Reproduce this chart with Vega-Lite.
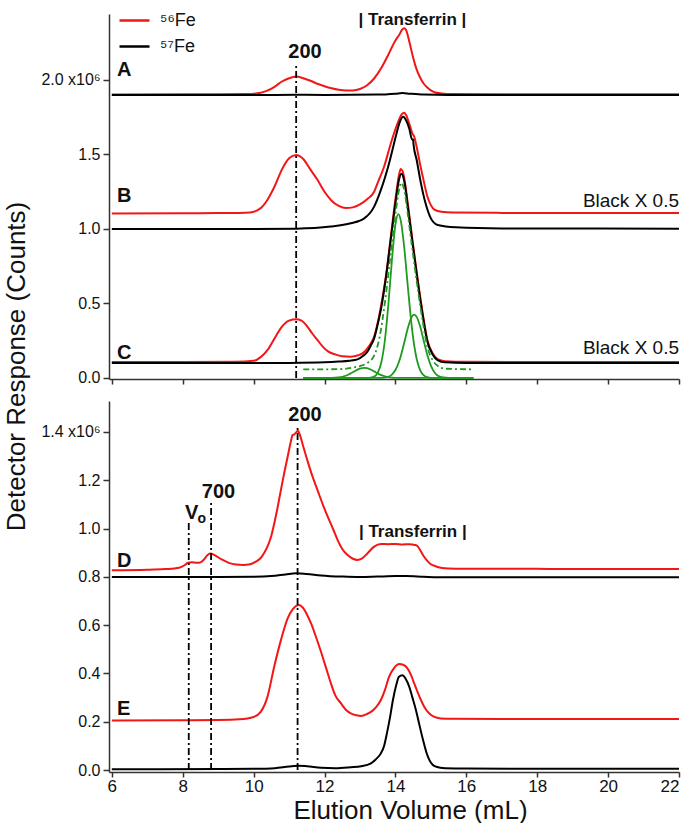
{
"$schema":"https://vega.github.io/schema/vega-lite/v6.json",
"background":"white",
"padding":{"left":3,"top":4,"right":0,"bottom":0},
"bounds":"flush",
"spacing":22,
"resolve":{"scale":{"x":"independent","y":"independent","color":"shared"}},
"config":{
 "view":{"stroke":null},
 "font":"Liberation Sans",
 "axis":{"grid":false,"domainColor":"#333","domainWidth":1.5,"tickColor":"#333","tickWidth":1.5,"labelColor":"#111","labelFont":"Liberation Sans","titleFont":"Liberation Sans","titleColor":"#111","titleFontWeight":"normal"},
 "legend":{"padding":0}
},
"datasets":{
"top":[
{"s":"A","iso":"56Fe","x":6,"y":1.903},{"s":"A","iso":"56Fe","x":8,"y":1.904},{"s":"A","iso":"56Fe","x":9,"y":1.905},{"s":"A","iso":"56Fe","x":9.8,"y":1.906},{"s":"A","iso":"56Fe","x":10.2,"y":1.914},{"s":"A","iso":"56Fe","x":10.4,"y":1.93},{"s":"A","iso":"56Fe","x":10.6,"y":1.956},{"s":"A","iso":"56Fe","x":10.8,"y":1.99},{"s":"A","iso":"56Fe","x":11,"y":2.012},{"s":"A","iso":"56Fe","x":11.2,"y":2.023},{"s":"A","iso":"56Fe","x":11.4,"y":2.012},{"s":"A","iso":"56Fe","x":11.6,"y":1.995},{"s":"A","iso":"56Fe","x":11.8,"y":1.975},{"s":"A","iso":"56Fe","x":12,"y":1.958},{"s":"A","iso":"56Fe","x":12.2,"y":1.944},{"s":"A","iso":"56Fe","x":12.4,"y":1.934},{"s":"A","iso":"56Fe","x":12.6,"y":1.929},{"s":"A","iso":"56Fe","x":12.8,"y":1.93},{"s":"A","iso":"56Fe","x":13,"y":1.94},{"s":"A","iso":"56Fe","x":13.2,"y":1.965},{"s":"A","iso":"56Fe","x":13.4,"y":2.01},{"s":"A","iso":"56Fe","x":13.6,"y":2.08},{"s":"A","iso":"56Fe","x":13.8,"y":2.17},{"s":"A","iso":"56Fe","x":14,"y":2.265},{"s":"A","iso":"56Fe","x":14.1,"y":2.3},{"s":"A","iso":"56Fe","x":14.2,"y":2.34},{"s":"A","iso":"56Fe","x":14.25,"y":2.347},{"s":"A","iso":"56Fe","x":14.3,"y":2.335},{"s":"A","iso":"56Fe","x":14.4,"y":2.25},{"s":"A","iso":"56Fe","x":14.5,"y":2.15},{"s":"A","iso":"56Fe","x":14.6,"y":2.07},{"s":"A","iso":"56Fe","x":14.7,"y":2.015},{"s":"A","iso":"56Fe","x":14.8,"y":1.975},{"s":"A","iso":"56Fe","x":14.9,"y":1.95},{"s":"A","iso":"56Fe","x":15,"y":1.93},{"s":"A","iso":"56Fe","x":15.1,"y":1.918},{"s":"A","iso":"56Fe","x":15.3,"y":1.91},{"s":"A","iso":"56Fe","x":15.6,"y":1.906},{"s":"A","iso":"56Fe","x":17,"y":1.905},{"s":"A","iso":"56Fe","x":19,"y":1.904},{"s":"A","iso":"56Fe","x":22,"y":1.904},
{"s":"A","iso":"57Fe","x":6,"y":1.899},{"s":"A","iso":"57Fe","x":10,"y":1.899},{"s":"A","iso":"57Fe","x":11.2,"y":1.901},{"s":"A","iso":"57Fe","x":12,"y":1.9},{"s":"A","iso":"57Fe","x":13.5,"y":1.902},{"s":"A","iso":"57Fe","x":14,"y":1.908},{"s":"A","iso":"57Fe","x":14.2,"y":1.912},{"s":"A","iso":"57Fe","x":14.4,"y":1.908},{"s":"A","iso":"57Fe","x":14.8,"y":1.902},{"s":"A","iso":"57Fe","x":15.5,"y":1.9},{"s":"A","iso":"57Fe","x":22,"y":1.9},
{"s":"B","iso":"56Fe","x":6,"y":1.104},{"s":"B","iso":"56Fe","x":8,"y":1.105},{"s":"B","iso":"56Fe","x":9,"y":1.107},{"s":"B","iso":"56Fe","x":9.6,"y":1.107},{"s":"B","iso":"56Fe","x":9.9,"y":1.11},{"s":"B","iso":"56Fe","x":10.1,"y":1.125},{"s":"B","iso":"56Fe","x":10.2,"y":1.14},{"s":"B","iso":"56Fe","x":10.4,"y":1.2},{"s":"B","iso":"56Fe","x":10.6,"y":1.29},{"s":"B","iso":"56Fe","x":10.8,"y":1.4},{"s":"B","iso":"56Fe","x":11,"y":1.475},{"s":"B","iso":"56Fe","x":11.2,"y":1.497},{"s":"B","iso":"56Fe","x":11.4,"y":1.47},{"s":"B","iso":"56Fe","x":11.6,"y":1.4},{"s":"B","iso":"56Fe","x":11.8,"y":1.33},{"s":"B","iso":"56Fe","x":12,"y":1.25},{"s":"B","iso":"56Fe","x":12.2,"y":1.19},{"s":"B","iso":"56Fe","x":12.4,"y":1.155},{"s":"B","iso":"56Fe","x":12.6,"y":1.14},{"s":"B","iso":"56Fe","x":12.8,"y":1.145},{"s":"B","iso":"56Fe","x":13,"y":1.165},{"s":"B","iso":"56Fe","x":13.2,"y":1.2},{"s":"B","iso":"56Fe","x":13.4,"y":1.25},{"s":"B","iso":"56Fe","x":13.5,"y":1.31},{"s":"B","iso":"56Fe","x":13.68,"y":1.418},{"s":"B","iso":"56Fe","x":13.87,"y":1.574},{"s":"B","iso":"56Fe","x":14.06,"y":1.709},{"s":"B","iso":"56Fe","x":14.18,"y":1.77},{"s":"B","iso":"56Fe","x":14.25,"y":1.78},{"s":"B","iso":"56Fe","x":14.3,"y":1.765},{"s":"B","iso":"56Fe","x":14.4,"y":1.7},{"s":"B","iso":"56Fe","x":14.48,"y":1.64},{"s":"B","iso":"56Fe","x":14.53,"y":1.62},{"s":"B","iso":"56Fe","x":14.6,"y":1.55},{"s":"B","iso":"56Fe","x":14.7,"y":1.43},{"s":"B","iso":"56Fe","x":14.8,"y":1.32},{"s":"B","iso":"56Fe","x":14.9,"y":1.22},{"s":"B","iso":"56Fe","x":15,"y":1.16},{"s":"B","iso":"56Fe","x":15.1,"y":1.13},{"s":"B","iso":"56Fe","x":15.3,"y":1.115},{"s":"B","iso":"56Fe","x":15.6,"y":1.11},{"s":"B","iso":"56Fe","x":17,"y":1.108},{"s":"B","iso":"56Fe","x":19,"y":1.107},{"s":"B","iso":"56Fe","x":22,"y":1.107},
{"s":"B","iso":"57Fe","x":6,"y":1.0},{"s":"B","iso":"57Fe","x":10,"y":1.0},{"s":"B","iso":"57Fe","x":11.2,"y":1.002},{"s":"B","iso":"57Fe","x":12.18,"y":1.016},{"s":"B","iso":"57Fe","x":12.74,"y":1.038},{"s":"B","iso":"57Fe","x":13.12,"y":1.071},{"s":"B","iso":"57Fe","x":13.4,"y":1.15},{"s":"B","iso":"57Fe","x":13.59,"y":1.262},{"s":"B","iso":"57Fe","x":13.82,"y":1.44},{"s":"B","iso":"57Fe","x":14.01,"y":1.62},{"s":"B","iso":"57Fe","x":14.11,"y":1.709},{"s":"B","iso":"57Fe","x":14.22,"y":1.753},{"s":"B","iso":"57Fe","x":14.3,"y":1.73},{"s":"B","iso":"57Fe","x":14.39,"y":1.675},{"s":"B","iso":"57Fe","x":14.47,"y":1.6},{"s":"B","iso":"57Fe","x":14.5,"y":1.6},{"s":"B","iso":"57Fe","x":14.51,"y":1.57},{"s":"B","iso":"57Fe","x":14.6,"y":1.463},{"s":"B","iso":"57Fe","x":14.72,"y":1.306},{"s":"B","iso":"57Fe","x":14.85,"y":1.172},{"s":"B","iso":"57Fe","x":15,"y":1.071},{"s":"B","iso":"57Fe","x":15.19,"y":1.027},{"s":"B","iso":"57Fe","x":15.7,"y":1.011},{"s":"B","iso":"57Fe","x":17,"y":1.004},{"s":"B","iso":"57Fe","x":22,"y":1.002},
{"s":"C","iso":"56Fe","x":6,"y":0.107},{"s":"C","iso":"56Fe","x":8,"y":0.107},{"s":"C","iso":"56Fe","x":9.5,"y":0.108},{"s":"C","iso":"56Fe","x":10,"y":0.115},{"s":"C","iso":"56Fe","x":10.2,"y":0.14},{"s":"C","iso":"56Fe","x":10.4,"y":0.19},{"s":"C","iso":"56Fe","x":10.6,"y":0.27},{"s":"C","iso":"56Fe","x":10.8,"y":0.345},{"s":"C","iso":"56Fe","x":11,"y":0.385},{"s":"C","iso":"56Fe","x":11.2,"y":0.394},{"s":"C","iso":"56Fe","x":11.35,"y":0.385},{"s":"C","iso":"56Fe","x":11.5,"y":0.35},{"s":"C","iso":"56Fe","x":11.65,"y":0.3},{"s":"C","iso":"56Fe","x":11.8,"y":0.255},{"s":"C","iso":"56Fe","x":11.95,"y":0.21},{"s":"C","iso":"56Fe","x":12.1,"y":0.178},{"s":"C","iso":"56Fe","x":12.3,"y":0.158},{"s":"C","iso":"56Fe","x":12.5,"y":0.146},{"s":"C","iso":"56Fe","x":12.74,"y":0.143},{"s":"C","iso":"56Fe","x":12.95,"y":0.152},{"s":"C","iso":"56Fe","x":13.1,"y":0.17},{"s":"C","iso":"56Fe","x":13.21,"y":0.199},{"s":"C","iso":"56Fe","x":13.3,"y":0.23},{"s":"C","iso":"56Fe","x":13.4,"y":0.277},{"s":"C","iso":"56Fe","x":13.5,"y":0.37},{"s":"C","iso":"56Fe","x":13.59,"y":0.479},{"s":"C","iso":"56Fe","x":13.73,"y":0.68},{"s":"C","iso":"56Fe","x":13.87,"y":0.948},{"s":"C","iso":"56Fe","x":14.01,"y":1.217},{"s":"C","iso":"56Fe","x":14.11,"y":1.373},{"s":"C","iso":"56Fe","x":14.15,"y":1.403},{"s":"C","iso":"56Fe","x":14.2,"y":1.39},{"s":"C","iso":"56Fe","x":14.25,"y":1.34},{"s":"C","iso":"56Fe","x":14.36,"y":1.15},{"s":"C","iso":"56Fe","x":14.48,"y":0.926},{"s":"C","iso":"56Fe","x":14.63,"y":0.658},{"s":"C","iso":"56Fe","x":14.77,"y":0.434},{"s":"C","iso":"56Fe","x":14.9,"y":0.255},{"s":"C","iso":"56Fe","x":15.05,"y":0.166},{"s":"C","iso":"56Fe","x":15.19,"y":0.126},{"s":"C","iso":"56Fe","x":15.4,"y":0.112},{"s":"C","iso":"56Fe","x":16,"y":0.108},{"s":"C","iso":"56Fe","x":18,"y":0.107},{"s":"C","iso":"56Fe","x":22,"y":0.107},
{"s":"C","iso":"57Fe","x":6,"y":0.1},{"s":"C","iso":"57Fe","x":10,"y":0.1},{"s":"C","iso":"57Fe","x":11,"y":0.101},{"s":"C","iso":"57Fe","x":12,"y":0.105},{"s":"C","iso":"57Fe","x":12.4,"y":0.11},{"s":"C","iso":"57Fe","x":12.7,"y":0.116},{"s":"C","iso":"57Fe","x":12.93,"y":0.125},{"s":"C","iso":"57Fe","x":13.1,"y":0.15},{"s":"C","iso":"57Fe","x":13.21,"y":0.177},{"s":"C","iso":"57Fe","x":13.3,"y":0.215},{"s":"C","iso":"57Fe","x":13.4,"y":0.266},{"s":"C","iso":"57Fe","x":13.5,"y":0.36},{"s":"C","iso":"57Fe","x":13.6,"y":0.47},{"s":"C","iso":"57Fe","x":13.73,"y":0.67},{"s":"C","iso":"57Fe","x":13.87,"y":0.93},{"s":"C","iso":"57Fe","x":14.01,"y":1.19},{"s":"C","iso":"57Fe","x":14.1,"y":1.33},{"s":"C","iso":"57Fe","x":14.17,"y":1.37},{"s":"C","iso":"57Fe","x":14.25,"y":1.32},{"s":"C","iso":"57Fe","x":14.36,"y":1.13},{"s":"C","iso":"57Fe","x":14.48,"y":0.91},{"s":"C","iso":"57Fe","x":14.63,"y":0.645},{"s":"C","iso":"57Fe","x":14.77,"y":0.42},{"s":"C","iso":"57Fe","x":14.9,"y":0.245},{"s":"C","iso":"57Fe","x":15.05,"y":0.158},{"s":"C","iso":"57Fe","x":15.19,"y":0.12},{"s":"C","iso":"57Fe","x":15.4,"y":0.105},{"s":"C","iso":"57Fe","x":16,"y":0.1},{"s":"C","iso":"57Fe","x":22,"y":0.1}
],
"green":[
{"c":"g1","st":"solid","x":11.4,"y":0},{"c":"g1","st":"solid","x":13.2,"y":0},{"c":"g1","st":"solid","x":13.3,"y":0.002},{"c":"g1","st":"solid","x":13.4,"y":0.009},{"c":"g1","st":"solid","x":13.5,"y":0.034},{"c":"g1","st":"solid","x":13.6,"y":0.102},{"c":"g1","st":"solid","x":13.7,"y":0.248},{"c":"g1","st":"solid","x":13.8,"y":0.49},{"c":"g1","st":"solid","x":13.9,"y":0.787},{"c":"g1","st":"solid","x":14,"y":1.03},{"c":"g1","st":"solid","x":14.08,"y":1.1},{"c":"g1","st":"solid","x":14.15,"y":1.058},{"c":"g1","st":"solid","x":14.25,"y":0.873},{"c":"g1","st":"solid","x":14.35,"y":0.614},{"c":"g1","st":"solid","x":14.45,"y":0.368},{"c":"g1","st":"solid","x":14.53,"y":0.218},{"c":"g1","st":"solid","x":14.6,"y":0.127},{"c":"g1","st":"solid","x":14.7,"y":0.051},{"c":"g1","st":"solid","x":14.8,"y":0.017},{"c":"g1","st":"solid","x":14.9,"y":0.005},{"c":"g1","st":"solid","x":15,"y":0.001},{"c":"g1","st":"solid","x":16.2,"y":0},
{"c":"g2","st":"solid","x":11.4,"y":0},{"c":"g2","st":"solid","x":13.6,"y":0},{"c":"g2","st":"solid","x":13.7,"y":0.003},{"c":"g2","st":"solid","x":13.8,"y":0.008},{"c":"g2","st":"solid","x":13.9,"y":0.023},{"c":"g2","st":"solid","x":14,"y":0.053},{"c":"g2","st":"solid","x":14.08,"y":0.095},{"c":"g2","st":"solid","x":14.15,"y":0.146},{"c":"g2","st":"solid","x":14.25,"y":0.238},{"c":"g2","st":"solid","x":14.35,"y":0.334},{"c":"g2","st":"solid","x":14.45,"y":0.405},{"c":"g2","st":"solid","x":14.53,"y":0.425},{"c":"g2","st":"solid","x":14.6,"y":0.41},{"c":"g2","st":"solid","x":14.7,"y":0.343},{"c":"g2","st":"solid","x":14.8,"y":0.248},{"c":"g2","st":"solid","x":14.9,"y":0.154},{"c":"g2","st":"solid","x":15,"y":0.083},{"c":"g2","st":"solid","x":15.1,"y":0.039},{"c":"g2","st":"solid","x":15.2,"y":0.015},{"c":"g2","st":"solid","x":15.35,"y":0.003},{"c":"g2","st":"solid","x":15.5,"y":0},{"c":"g2","st":"solid","x":16.2,"y":0},
{"c":"g3","st":"solid","x":11.4,"y":0},{"c":"g3","st":"solid","x":12,"y":0},{"c":"g3","st":"solid","x":12.4,"y":0.004},{"c":"g3","st":"solid","x":12.6,"y":0.015},{"c":"g3","st":"solid","x":12.7,"y":0.026},{"c":"g3","st":"solid","x":12.8,"y":0.038},{"c":"g3","st":"solid","x":12.9,"y":0.052},{"c":"g3","st":"solid","x":13,"y":0.063},{"c":"g3","st":"solid","x":13.12,"y":0.068},{"c":"g3","st":"solid","x":13.2,"y":0.066},{"c":"g3","st":"solid","x":13.3,"y":0.057},{"c":"g3","st":"solid","x":13.4,"y":0.044},{"c":"g3","st":"solid","x":13.5,"y":0.03},{"c":"g3","st":"solid","x":13.6,"y":0.019},{"c":"g3","st":"solid","x":13.7,"y":0.011},{"c":"g3","st":"solid","x":13.8,"y":0.005},{"c":"g3","st":"solid","x":13.9,"y":0.002},{"c":"g3","st":"solid","x":14,"y":0},{"c":"g3","st":"solid","x":16.2,"y":0},
{"c":"sum","st":"dash","x":11.4,"y":0.058},{"c":"sum","st":"dash","x":12,"y":0.058},{"c":"sum","st":"dash","x":12.5,"y":0.06},{"c":"sum","st":"dash","x":12.8,"y":0.07},{"c":"sum","st":"dash","x":13,"y":0.08},{"c":"sum","st":"dash","x":13.2,"y":0.1},{"c":"sum","st":"dash","x":13.4,"y":0.15},{"c":"sum","st":"dash","x":13.55,"y":0.27},{"c":"sum","st":"dash","x":13.7,"y":0.5},{"c":"sum","st":"dash","x":13.85,"y":0.8},{"c":"sum","st":"dash","x":14,"y":1.1},{"c":"sum","st":"dash","x":14.1,"y":1.26},{"c":"sum","st":"dash","x":14.17,"y":1.31},{"c":"sum","st":"dash","x":14.25,"y":1.26},{"c":"sum","st":"dash","x":14.36,"y":1.08},{"c":"sum","st":"dash","x":14.48,"y":0.86},{"c":"sum","st":"dash","x":14.63,"y":0.6},{"c":"sum","st":"dash","x":14.77,"y":0.38},{"c":"sum","st":"dash","x":14.9,"y":0.21},{"c":"sum","st":"dash","x":15.05,"y":0.12},{"c":"sum","st":"dash","x":15.2,"y":0.08},{"c":"sum","st":"dash","x":15.4,"y":0.062},{"c":"sum","st":"dash","x":16.2,"y":0.058}
],
"bot":[
{"s":"D","iso":"56Fe","x":6,"y":0.827},{"s":"D","iso":"56Fe","x":7,"y":0.829},{"s":"D","iso":"56Fe","x":7.5,"y":0.832},{"s":"D","iso":"56Fe","x":7.9,"y":0.838},{"s":"D","iso":"56Fe","x":8.05,"y":0.848},{"s":"D","iso":"56Fe","x":8.15,"y":0.858},{"s":"D","iso":"56Fe","x":8.25,"y":0.86},{"s":"D","iso":"56Fe","x":8.4,"y":0.858},{"s":"D","iso":"56Fe","x":8.5,"y":0.86},{"s":"D","iso":"56Fe","x":8.6,"y":0.872},{"s":"D","iso":"56Fe","x":8.7,"y":0.89},{"s":"D","iso":"56Fe","x":8.78,"y":0.897},{"s":"D","iso":"56Fe","x":8.9,"y":0.89},{"s":"D","iso":"56Fe","x":9.1,"y":0.872},{"s":"D","iso":"56Fe","x":9.3,"y":0.858},{"s":"D","iso":"56Fe","x":9.5,"y":0.851},{"s":"D","iso":"56Fe","x":9.7,"y":0.849},{"s":"D","iso":"56Fe","x":9.9,"y":0.852},{"s":"D","iso":"56Fe","x":10.05,"y":0.862},{"s":"D","iso":"56Fe","x":10.2,"y":0.878},{"s":"D","iso":"56Fe","x":10.3,"y":0.9},{"s":"D","iso":"56Fe","x":10.39,"y":0.925},{"s":"D","iso":"56Fe","x":10.5,"y":0.97},{"s":"D","iso":"56Fe","x":10.58,"y":1.02},{"s":"D","iso":"56Fe","x":10.68,"y":1.09},{"s":"D","iso":"56Fe","x":10.77,"y":1.16},{"s":"D","iso":"56Fe","x":10.87,"y":1.235},{"s":"D","iso":"56Fe","x":10.96,"y":1.297},{"s":"D","iso":"56Fe","x":11.05,"y":1.36},{"s":"D","iso":"56Fe","x":11.1,"y":1.387},{"s":"D","iso":"56Fe","x":11.15,"y":1.39},{"s":"D","iso":"56Fe","x":11.2,"y":1.398},{"s":"D","iso":"56Fe","x":11.25,"y":1.405},{"s":"D","iso":"56Fe","x":11.3,"y":1.39},{"s":"D","iso":"56Fe","x":11.4,"y":1.34},{"s":"D","iso":"56Fe","x":11.52,"y":1.28},{"s":"D","iso":"56Fe","x":11.65,"y":1.22},{"s":"D","iso":"56Fe","x":11.8,"y":1.16},{"s":"D","iso":"56Fe","x":11.95,"y":1.1},{"s":"D","iso":"56Fe","x":12.09,"y":1.049},{"s":"D","iso":"56Fe","x":12.25,"y":0.995},{"s":"D","iso":"56Fe","x":12.37,"y":0.952},{"s":"D","iso":"56Fe","x":12.5,"y":0.915},{"s":"D","iso":"56Fe","x":12.65,"y":0.89},{"s":"D","iso":"56Fe","x":12.8,"y":0.875},{"s":"D","iso":"56Fe","x":12.93,"y":0.87},{"s":"D","iso":"56Fe","x":13.05,"y":0.875},{"s":"D","iso":"56Fe","x":13.21,"y":0.897},{"s":"D","iso":"56Fe","x":13.4,"y":0.925},{"s":"D","iso":"56Fe","x":13.59,"y":0.936},{"s":"D","iso":"56Fe","x":13.8,"y":0.935},{"s":"D","iso":"56Fe","x":14,"y":0.936},{"s":"D","iso":"56Fe","x":14.2,"y":0.934},{"s":"D","iso":"56Fe","x":14.4,"y":0.935},{"s":"D","iso":"56Fe","x":14.55,"y":0.932},{"s":"D","iso":"56Fe","x":14.62,"y":0.928},{"s":"D","iso":"56Fe","x":14.72,"y":0.905},{"s":"D","iso":"56Fe","x":14.8,"y":0.885},{"s":"D","iso":"56Fe","x":14.9,"y":0.866},{"s":"D","iso":"56Fe","x":15,"y":0.852},{"s":"D","iso":"56Fe","x":15.15,"y":0.843},{"s":"D","iso":"56Fe","x":15.28,"y":0.838},{"s":"D","iso":"56Fe","x":15.5,"y":0.835},{"s":"D","iso":"56Fe","x":16,"y":0.834},{"s":"D","iso":"56Fe","x":18,"y":0.833},{"s":"D","iso":"56Fe","x":20,"y":0.832},{"s":"D","iso":"56Fe","x":22,"y":0.832},
{"s":"D","iso":"57Fe","x":6,"y":0.799},{"s":"D","iso":"57Fe","x":9,"y":0.799},{"s":"D","iso":"57Fe","x":10,"y":0.8},{"s":"D","iso":"57Fe","x":10.5,"y":0.803},{"s":"D","iso":"57Fe","x":10.9,"y":0.81},{"s":"D","iso":"57Fe","x":11.2,"y":0.815},{"s":"D","iso":"57Fe","x":11.5,"y":0.812},{"s":"D","iso":"57Fe","x":11.9,"y":0.806},{"s":"D","iso":"57Fe","x":12.5,"y":0.801},{"s":"D","iso":"57Fe","x":13,"y":0.799},{"s":"D","iso":"57Fe","x":13.5,"y":0.801},{"s":"D","iso":"57Fe","x":14,"y":0.803},{"s":"D","iso":"57Fe","x":14.3,"y":0.803},{"s":"D","iso":"57Fe","x":14.8,"y":0.8},{"s":"D","iso":"57Fe","x":15.2,"y":0.798},{"s":"D","iso":"57Fe","x":16,"y":0.798},{"s":"D","iso":"57Fe","x":22,"y":0.798},
{"s":"E","iso":"56Fe","x":6,"y":0.205},{"s":"E","iso":"56Fe","x":8,"y":0.206},{"s":"E","iso":"56Fe","x":9,"y":0.207},{"s":"E","iso":"56Fe","x":9.6,"y":0.21},{"s":"E","iso":"56Fe","x":10,"y":0.22},{"s":"E","iso":"56Fe","x":10.2,"y":0.241},{"s":"E","iso":"56Fe","x":10.39,"y":0.303},{"s":"E","iso":"56Fe","x":10.58,"y":0.428},{"s":"E","iso":"56Fe","x":10.77,"y":0.538},{"s":"E","iso":"56Fe","x":10.96,"y":0.628},{"s":"E","iso":"56Fe","x":11.1,"y":0.665},{"s":"E","iso":"56Fe","x":11.2,"y":0.68},{"s":"E","iso":"56Fe","x":11.28,"y":0.683},{"s":"E","iso":"56Fe","x":11.4,"y":0.67},{"s":"E","iso":"56Fe","x":11.5,"y":0.645},{"s":"E","iso":"56Fe","x":11.62,"y":0.607},{"s":"E","iso":"56Fe","x":11.75,"y":0.555},{"s":"E","iso":"56Fe","x":11.9,"y":0.49},{"s":"E","iso":"56Fe","x":12.05,"y":0.42},{"s":"E","iso":"56Fe","x":12.18,"y":0.359},{"s":"E","iso":"56Fe","x":12.3,"y":0.31},{"s":"E","iso":"56Fe","x":12.46,"y":0.277},{"s":"E","iso":"56Fe","x":12.6,"y":0.25},{"s":"E","iso":"56Fe","x":12.74,"y":0.235},{"s":"E","iso":"56Fe","x":12.9,"y":0.227},{"s":"E","iso":"56Fe","x":13.03,"y":0.224},{"s":"E","iso":"56Fe","x":13.2,"y":0.232},{"s":"E","iso":"56Fe","x":13.31,"y":0.241},{"s":"E","iso":"56Fe","x":13.45,"y":0.26},{"s":"E","iso":"56Fe","x":13.59,"y":0.29},{"s":"E","iso":"56Fe","x":13.7,"y":0.33},{"s":"E","iso":"56Fe","x":13.82,"y":0.386},{"s":"E","iso":"56Fe","x":13.95,"y":0.42},{"s":"E","iso":"56Fe","x":14.11,"y":0.439},{"s":"E","iso":"56Fe","x":14.2,"y":0.437},{"s":"E","iso":"56Fe","x":14.34,"y":0.421},{"s":"E","iso":"56Fe","x":14.45,"y":0.39},{"s":"E","iso":"56Fe","x":14.53,"y":0.359},{"s":"E","iso":"56Fe","x":14.62,"y":0.325},{"s":"E","iso":"56Fe","x":14.72,"y":0.29},{"s":"E","iso":"56Fe","x":14.82,"y":0.26},{"s":"E","iso":"56Fe","x":14.95,"y":0.235},{"s":"E","iso":"56Fe","x":15.1,"y":0.22},{"s":"E","iso":"56Fe","x":15.28,"y":0.214},{"s":"E","iso":"56Fe","x":15.6,"y":0.212},{"s":"E","iso":"56Fe","x":17,"y":0.211},{"s":"E","iso":"56Fe","x":20,"y":0.211},{"s":"E","iso":"56Fe","x":22,"y":0.211},
{"s":"E","iso":"57Fe","x":6,"y":0.003},{"s":"E","iso":"57Fe","x":9,"y":0.004},{"s":"E","iso":"57Fe","x":10,"y":0.005},{"s":"E","iso":"57Fe","x":10.6,"y":0.008},{"s":"E","iso":"57Fe","x":11,"y":0.015},{"s":"E","iso":"57Fe","x":11.25,"y":0.018},{"s":"E","iso":"57Fe","x":11.5,"y":0.016},{"s":"E","iso":"57Fe","x":11.9,"y":0.01},{"s":"E","iso":"57Fe","x":12.3,"y":0.008},{"s":"E","iso":"57Fe","x":12.74,"y":0.012},{"s":"E","iso":"57Fe","x":13.03,"y":0.016},{"s":"E","iso":"57Fe","x":13.31,"y":0.028},{"s":"E","iso":"57Fe","x":13.45,"y":0.045},{"s":"E","iso":"57Fe","x":13.59,"y":0.069},{"s":"E","iso":"57Fe","x":13.68,"y":0.1},{"s":"E","iso":"57Fe","x":13.76,"y":0.152},{"s":"E","iso":"57Fe","x":13.85,"y":0.22},{"s":"E","iso":"57Fe","x":13.93,"y":0.29},{"s":"E","iso":"57Fe","x":14.02,"y":0.35},{"s":"E","iso":"57Fe","x":14.1,"y":0.386},{"s":"E","iso":"57Fe","x":14.2,"y":0.393},{"s":"E","iso":"57Fe","x":14.28,"y":0.38},{"s":"E","iso":"57Fe","x":14.39,"y":0.345},{"s":"E","iso":"57Fe","x":14.48,"y":0.3},{"s":"E","iso":"57Fe","x":14.58,"y":0.248},{"s":"E","iso":"57Fe","x":14.68,"y":0.185},{"s":"E","iso":"57Fe","x":14.78,"y":0.124},{"s":"E","iso":"57Fe","x":14.87,"y":0.075},{"s":"E","iso":"57Fe","x":14.96,"y":0.041},{"s":"E","iso":"57Fe","x":15.05,"y":0.022},{"s":"E","iso":"57Fe","x":15.15,"y":0.014},{"s":"E","iso":"57Fe","x":15.4,"y":0.008},{"s":"E","iso":"57Fe","x":16,"y":0.006},{"s":"E","iso":"57Fe","x":22,"y":0.005}
],
"rules":[
{"p":"top","x":11.2,"y":0,"y2":2.1},
{"p":"bot","x":8.17,"y":0,"y2":1.027},
{"p":"bot","x":8.8,"y":0,"y2":1.118},
{"p":"bot","x":11.24,"y":0,"y2":1.42}
],
"labels":[
{"p":"top","k":"letter","t":"A","x":6.147,"y":2.067},
{"p":"top","k":"letter","t":"B","x":6.147,"y":1.223},
{"p":"top","k":"letter","t":"C","x":6.147,"y":0.166},
{"p":"top","k":"mw","t":"200","x":11.45,"y":2.188},
{"p":"top","k":"tf","t":"| Transferrin |","x":14.48,"y":2.403},
{"p":"top","k":"note","t":"Black X 0.5","x":22,"y":1.19},
{"p":"top","k":"note","t":"Black X 0.5","x":22,"y":0.201},
{"p":"bot","k":"letter","t":"D","x":6.147,"y":0.866},
{"p":"bot","k":"letter","t":"E","x":6.147,"y":0.252},
{"p":"bot","k":"mw","t":"200","x":11.45,"y":1.47},
{"p":"bot","k":"mw","t":"700","x":9.01,"y":1.151},
{"p":"bot","k":"mw","t":"V","x":8.25,"y":1.066},
{"p":"bot","k":"sub","t":"o","x":8.54,"y":1.04},
{"p":"bot","k":"tf","t":"| Transferrin |","x":14.49,"y":0.986}
]
},
"vconcat":[
{
 "width":570,"height":365,
 "encoding":{
  "x":{"field":"x","type":"quantitative","scale":{"domain":[5.92,22],"nice":false,"zero":false},
       "axis":{"values":[6,8,10,12,14,16,18,20,22],"labels":false,"tickSize":5,"title":null}},
  "y":{"field":"y","type":"quantitative","scale":{"domain":[-0.007,2.443],"nice":false,"zero":false},
       "axis":{"values":[0,0.5,1,1.5,2],"labelExpr":"datum.value==2 ? '2.0 x10⁶' : format(datum.value,'.1f')","labelFontSize":16,"tickSize":6,"labelPadding":3,
               "title":"Detector Response (Counts)","titleFontSize":26,"titleAngle":270,"titleX":-93,"titleY":352,"titleAlign":"center","titleBaseline":"middle"}}
 },
 "layer":[
  {"data":{"name":"top"},"transform":[{"filter":"datum.iso=='56Fe'"}],
   "mark":{"type":"line","strokeWidth":2,"interpolate":"monotone"},
   "encoding":{"color":{"field":"iso","type":"nominal","scale":{"domain":["56Fe","57Fe"],"range":["#f21616","#000000"]},
     "legend":{"orient":"none","legendX":9,"legendY":-10,"title":null,"symbolType":"stroke","symbolSize":900,"symbolStrokeWidth":2.5,"labelFontSize":18,"labelFont":"Liberation Sans","labelColor":"#111","rowPadding":-3,"labelOffset":9,
       "labelExpr":"datum.label=='56Fe' ? '⁵⁶Fe' : '⁵⁷Fe'"}},
    "detail":{"field":"s"}}},
  {"data":{"name":"top"},"transform":[{"filter":"datum.iso=='57Fe'"}],
   "mark":{"type":"line","strokeWidth":2,"interpolate":"monotone"},
   "encoding":{"color":{"field":"iso","type":"nominal"},"detail":{"field":"s"}}},
  {"data":{"name":"green"},"transform":[{"filter":"datum.st=='solid'"}],
   "mark":{"type":"line","strokeWidth":1.8,"color":"#1e9a1e","interpolate":"monotone"},
   "encoding":{"detail":{"field":"c"}}},
  {"data":{"name":"green"},"transform":[{"filter":"datum.st=='dash'"}],
   "mark":{"type":"line","strokeWidth":1.8,"color":"#1e9a1e","strokeDash":[6,3,2,3],"interpolate":"monotone"},
   "encoding":{}},
  {"data":{"name":"rules"},"transform":[{"filter":"datum.p=='top'"}],
   "mark":{"type":"rule","strokeWidth":1.8,"color":"#000","strokeDash":[7,3,2,3]},
   "encoding":{"y2":{"field":"y2"}}},
  {"data":{"name":"labels"},"transform":[{"filter":"datum.p=='top' && datum.k=='letter'"}],
   "mark":{"type":"text","font":"Liberation Sans","fontSize":20,"fontWeight":"bold","align":"left","baseline":"middle","color":"#111"},
   "encoding":{"text":{"field":"t"}}},
  {"data":{"name":"labels"},"transform":[{"filter":"datum.p=='top' && datum.k=='mw'"}],
   "mark":{"type":"text","font":"Liberation Sans","fontSize":20,"fontWeight":"bold","align":"center","baseline":"middle","color":"#111"},
   "encoding":{"text":{"field":"t"}}},
  {"data":{"name":"labels"},"transform":[{"filter":"datum.p=='top' && datum.k=='tf'"}],
   "mark":{"type":"text","font":"Liberation Sans","fontSize":17,"fontWeight":"bold","align":"center","baseline":"middle","color":"#111"},
   "encoding":{"text":{"field":"t"}}},
  {"data":{"name":"labels"},"transform":[{"filter":"datum.p=='top' && datum.k=='note'"}],
   "mark":{"type":"text","font":"Liberation Sans","fontSize":19,"fontWeight":"normal","align":"right","baseline":"middle","color":"#111"},
   "encoding":{"text":{"field":"t"}}}
 ]
},
{
 "width":570,"height":371,
 "encoding":{
  "x":{"field":"x","type":"quantitative","scale":{"domain":[5.92,22],"nice":false,"zero":false},
       "axis":{"values":[6,8,10,12,14,16,18,20,22],"labelFontSize":17,"tickSize":5,"labelPadding":1,"title":"Elution Volume (mL)","titleFontSize":26,"titlePadding":3,"titleX":301}},
  "y":{"field":"y","type":"quantitative","scale":{"domain":[-0.008,1.528],"nice":false,"zero":false},
       "axis":{"values":[0,0.2,0.4,0.6,0.8,1,1.2,1.4],"labelExpr":"datum.value==1.4 ? '1.4 x10⁶' : format(datum.value,'.1f')","labelFontSize":16,"tickSize":6,"labelPadding":3,"title":null}}
 },
 "layer":[
  {"data":{"name":"bot"},"transform":[{"filter":"datum.iso=='56Fe'"}],
   "mark":{"type":"line","strokeWidth":2,"interpolate":"monotone"},
   "encoding":{"color":{"field":"iso","type":"nominal","legend":null},"detail":{"field":"s"}}},
  {"data":{"name":"bot"},"transform":[{"filter":"datum.iso=='57Fe'"}],
   "mark":{"type":"line","strokeWidth":2,"interpolate":"monotone"},
   "encoding":{"color":{"field":"iso","type":"nominal","legend":null},"detail":{"field":"s"}}},
  {"data":{"name":"rules"},"transform":[{"filter":"datum.p=='bot'"}],
   "mark":{"type":"rule","strokeWidth":1.8,"color":"#000","strokeDash":[7,3,2,3]},
   "encoding":{"y2":{"field":"y2"}}},
  {"data":{"name":"labels"},"transform":[{"filter":"datum.p=='bot' && datum.k=='letter'"}],
   "mark":{"type":"text","font":"Liberation Sans","fontSize":20,"fontWeight":"bold","align":"left","baseline":"middle","color":"#111"},
   "encoding":{"text":{"field":"t"}}},
  {"data":{"name":"labels"},"transform":[{"filter":"datum.p=='bot' && datum.k=='mw'"}],
   "mark":{"type":"text","font":"Liberation Sans","fontSize":20,"fontWeight":"bold","align":"center","baseline":"middle","color":"#111"},
   "encoding":{"text":{"field":"t"}}},
  {"data":{"name":"labels"},"transform":[{"filter":"datum.p=='bot' && datum.k=='sub'"}],
   "mark":{"type":"text","font":"Liberation Sans","fontSize":14,"fontWeight":"bold","align":"center","baseline":"middle","color":"#111"},
   "encoding":{"text":{"field":"t"}}},
  {"data":{"name":"labels"},"transform":[{"filter":"datum.p=='bot' && datum.k=='tf'"}],
   "mark":{"type":"text","font":"Liberation Sans","fontSize":17,"fontWeight":"bold","align":"center","baseline":"middle","color":"#111"},
   "encoding":{"text":{"field":"t"}}}
 ]
}
]
}
